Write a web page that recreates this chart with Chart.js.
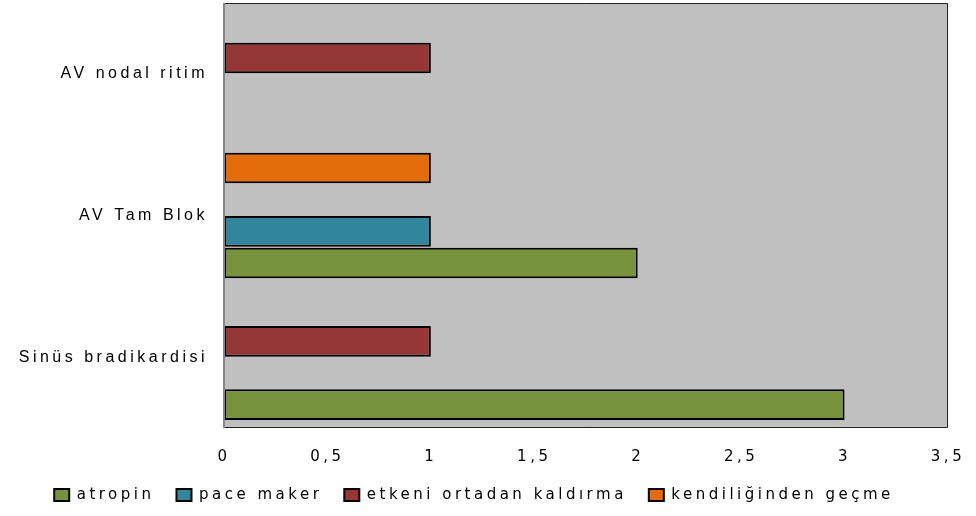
<!DOCTYPE html>
<html>
<head>
<meta charset="utf-8">
<script src="https://cdn.jsdelivr.net/npm/chart.js@4"></script>
<style>
  body { margin: 0; background: #fff; }
  canvas { display: block; }
</style>
</head>
<body>
<canvas id="myChart" width="976" height="516"></canvas>
<script>
// categories top to bottom
var categories = ["AV nodal ritim", "AV Tam Blok", "Sinüs bradikardisi"];
var atropin = [0, 2, 3];
var paceMaker = [0, 1, 0];
var etkeni = [1, 0, 1];
var kendiliginden = [0, 1, 0];
var xTicks = [0, 0.5, 1, 1.5, 2, 2.5, 3, 3.5];

var LS = '3.5px';

// wide text like the original + grey plot area
var spacing = {
  id: 'spacing',
  beforeUpdate: function(chart) { chart.ctx.letterSpacing = LS; },
  beforeLayout: function(chart) { chart.ctx.letterSpacing = LS; },
  beforeDraw: function(chart) {
    var ctx = chart.ctx, a = chart.chartArea;
    ctx.letterSpacing = LS;
    ctx.save();
    ctx.fillStyle = '#c0c0c0';
    ctx.fillRect(a.left, a.top, a.right - a.left, a.bottom - a.top);
    ctx.restore();
  },
  afterDatasetsDraw: function(chart) {
    var ctx = chart.ctx, a = chart.chartArea;
    ctx.save();
    ctx.strokeStyle = '#222';
    ctx.lineWidth = 1;
    ctx.beginPath();
    ctx.moveTo(a.left, a.top + 0.5);
    ctx.lineTo(a.right - 0.5, a.top + 0.5);
    ctx.lineTo(a.right - 0.5, a.bottom - 0.5);
    ctx.lineTo(a.left, a.bottom - 0.5);
    ctx.stroke();
    ctx.strokeStyle = '#868686';
    ctx.lineWidth = 2;
    ctx.beginPath();
    ctx.moveTo(a.left, a.top);
    ctx.lineTo(a.left, a.bottom);
    ctx.stroke();
    ctx.restore();
  }
};

function ds(label, data, color) {
  return {
    label: label,
    data: data,
    backgroundColor: color,
    borderColor: '#000',
    borderWidth: 2,
    borderSkipped: false,
    categoryPercentage: 0.894,
    barPercentage: 0.97
  };
}

var ctx = document.getElementById("myChart").getContext("2d");
var myChart = new Chart(ctx, {
  type: 'bar',
  data: {
    labels: categories,
    datasets: [
      ds("kendiliğinden geçme", kendiliginden, '#e46c0a'),
      ds("etkeni ortadan kaldırma", etkeni, '#953735'),
      ds("pace maker", paceMaker, '#31859c'),
      ds("atropin", atropin, '#77933c')
    ]
  },
  options: {
    indexAxis: 'y',
    responsive: false,
    animation: false,
    layout: { padding: { left: 0, right: 28, top: 3, bottom: 3.5 } },
    scales: {
      x: {
        min: 0,
        max: 3.5,
        afterBuildTicks: function(scale) {
          scale.ticks = xTicks.map(function(v) { return { value: v }; });
        },
        afterFit: function(scale) {
          scale.height = 37.5;
          scale.paddingLeft = 0;
          scale.paddingRight = 0;
        },
        grid: { display: false, drawTicks: false },
        border: { display: false },
        ticks: {
          padding: 20,
          color: '#000',
          font: { family: 'DejaVu Sans', size: 15 },
          maxRotation: 0,
          callback: function(v) { return String(v).replace('.', ','); }
        }
      },
      y: {
        afterFit: function(scale) {
          scale.width = 224;
          scale.paddingTop = 0;
          scale.paddingBottom = 0;
        },
        grid: { display: false, drawTicks: false },
        border: { display: false },
        ticks: {
          padding: 16,
          color: '#000',
          font: { family: 'Liberation Sans', size: 16 }
        }
      }
    },
    plugins: {
      legend: {
        position: 'bottom',
        reverse: true,
        labels: {
          color: '#000',
          boxWidth: 15,
          boxHeight: 12,
          padding: 22,
          font: { family: 'DejaVu Sans', size: 15 }
        }
      },
      tooltip: { enabled: false }
    }
  },
  plugins: [spacing]
});
</script>
</body>
</html>
